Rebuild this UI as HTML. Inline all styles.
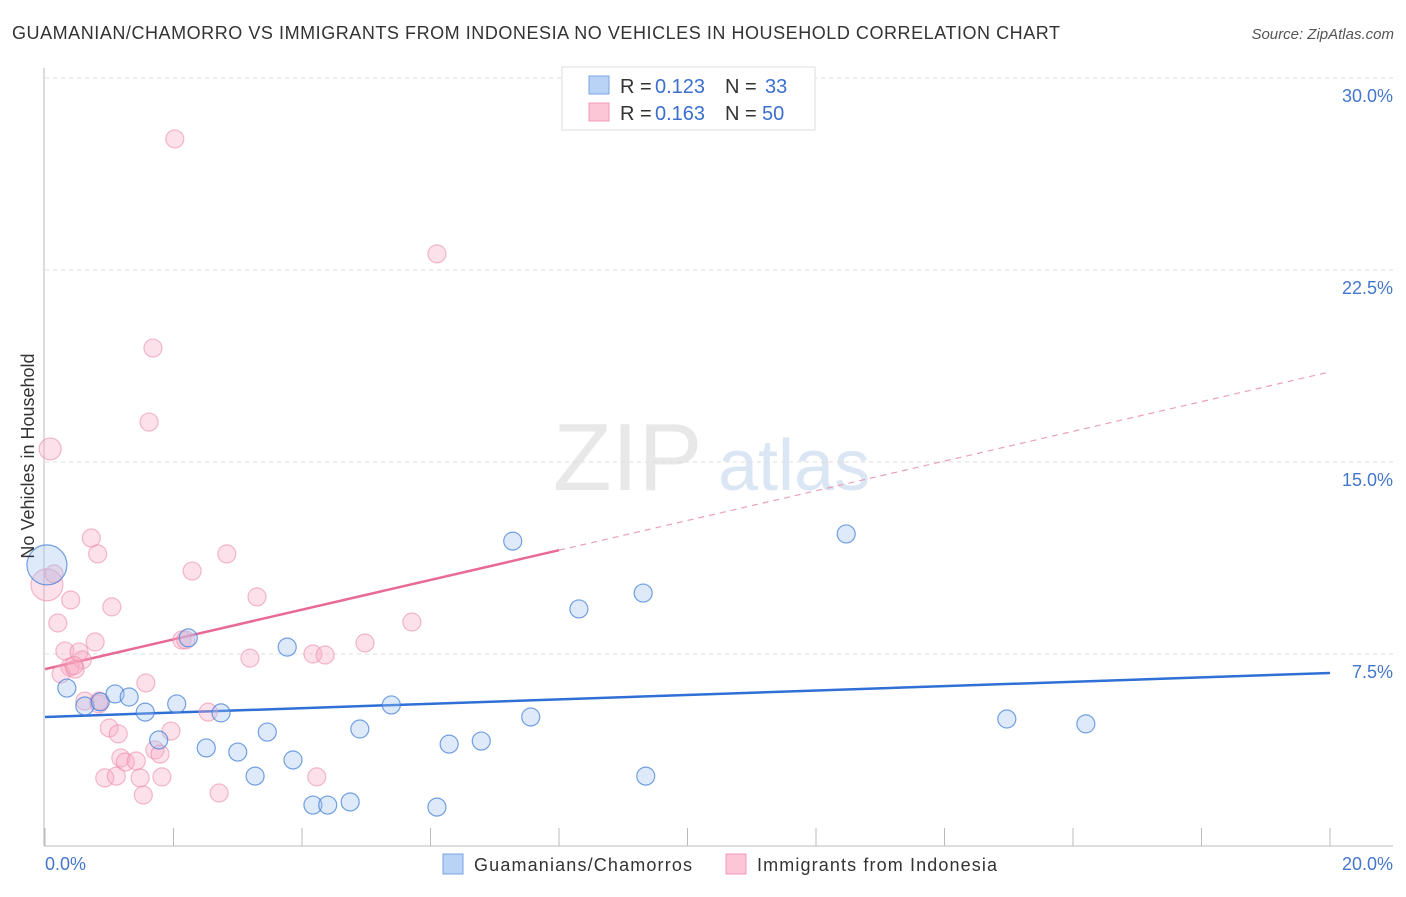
<!DOCTYPE html>
<html><head><meta charset="utf-8"><style>
body{margin:0;background:#fff;font-family:"Liberation Sans",sans-serif;}
svg text{font-family:"Liberation Sans",sans-serif;}
</style></head><body>
<svg id="chart" width="1406" height="892" xmlns="http://www.w3.org/2000/svg">
<text x="12" y="39" font-size="18" fill="#333" textLength="1048" lengthAdjust="spacing">GUAMANIAN/CHAMORRO VS IMMIGRANTS FROM INDONESIA NO VEHICLES IN HOUSEHOLD CORRELATION CHART</text>
<text x="1394" y="39" font-size="15" fill="#555" font-style="italic" text-anchor="end">Source: ZipAtlas.com</text>
<g><text x="553" y="490" font-size="96" fill="#e8e8e8" font-family="Liberation Serif">ZIP</text><text x="718" y="490" font-size="72" fill="#dbe6f5">atlas</text></g>
<g id="grid"></g><g id="axes"></g><g id="trends"></g><g id="pts"></g>
<text x="34" y="456" font-size="18" fill="#333" text-anchor="middle" transform="rotate(-90 34 456)">No Vehicles in Household</text>
<text x="45" y="870" font-size="18" fill="#4477cc">0.0%</text>
<text x="1393" y="870" font-size="18" fill="#4477cc" text-anchor="end">20.0%</text>
<g>
<rect x="562" y="67" width="253" height="63" fill="#fff" stroke="#ddd"/>
<rect x="589" y="76" width="20" height="18" fill="#b9d3f7" stroke="#7aa6e0"/>
<rect x="589" y="103" width="20" height="18" fill="#fcc6d6" stroke="#f09ab5"/>
<text x="620" y="93" font-size="20" fill="#333">R =</text>
<text x="655" y="93" font-size="20" fill="#3a6fd0">0.123</text>
<text x="725" y="93" font-size="20" fill="#333">N =</text>
<text x="765" y="93" font-size="20" fill="#3a6fd0">33</text>
<text x="620" y="120" font-size="20" fill="#333">R =</text>
<text x="655" y="120" font-size="20" fill="#3a6fd0">0.163</text>
<text x="725" y="120" font-size="20" fill="#333">N =</text>
<text x="762" y="120" font-size="20" fill="#3a6fd0">50</text>
</g>
<g>
<rect x="443" y="854" width="20" height="20" fill="#b9d3f7" stroke="#7aa6e0"/>
<text x="474" y="871" font-size="18" fill="#333" textLength="218">Guamanians/Chamorros</text>
<rect x="726" y="854" width="20" height="20" fill="#fcc6d6" stroke="#f09ab5"/>
<text x="757" y="871" font-size="18" fill="#333" textLength="240">Immigrants from Indonesia</text>
</g>
</svg>
<script>
const yTicks=[7.5,15,22.5,30];
const yTickLabels=["7.5%","15.0%","22.5%","30.0%"];
const xTicks=[0,2,4,6,8,10,12,14,16,18,20];
const blueX=[0.03,0.34,0.62,0.86,1.09,1.31,1.56,1.77,2.05,2.23,2.51,2.74,3.00,3.27,3.46,3.77,3.86,4.17,4.40,4.75,4.90,5.39,6.10,6.29,6.79,7.28,7.56,8.31,9.31,9.35,12.47,14.97,16.20];
const blueY=[10.98,6.17,5.47,5.63,5.94,5.82,5.23,4.14,5.55,8.13,3.83,5.20,3.67,2.73,4.45,7.77,3.36,1.60,1.60,1.72,4.57,5.51,1.52,3.98,4.10,11.91,5.04,9.26,9.88,2.73,12.19,4.96,4.77];
const pinkX=[0.08,0.03,0.14,0.20,0.72,0.82,0.40,1.04,0.78,0.31,0.53,0.58,0.39,0.25,0.47,0.62,0.84,1.00,1.14,1.57,2.13,2.19,2.29,2.83,3.30,3.19,4.17,4.36,4.98,5.71,2.54,1.96,1.71,1.79,1.18,1.25,1.42,0.93,1.11,1.48,1.82,1.53,2.71,4.23,1.68,1.62,2.02,6.10,0.84,0.45];
const pinkY=[15.51,10.20,10.63,8.71,12.03,11.41,9.61,9.34,7.97,7.62,7.58,7.27,6.99,6.72,6.91,5.66,5.55,4.61,4.38,6.37,8.05,8.05,10.74,11.41,9.73,7.34,7.50,7.46,7.93,8.75,5.23,4.49,3.75,3.59,3.44,3.28,3.32,2.66,2.73,2.66,2.70,1.99,2.07,2.70,19.45,16.56,27.62,23.13,5.66,7.05];
const blueTrend=[5.04,6.76];
const pinkTrend=[6.91,18.52];
const pinkSolidEnd=8.0;
const X=v=>45+v/20*1285, Y=v=>846-v/7.5*192;
const NS="http://www.w3.org/2000/svg";
function mk(t,a,p){const e=document.createElementNS(NS,t);for(const k in a)e.setAttribute(k,a[k]);document.getElementById(p).appendChild(e);return e;}
yTicks.forEach((t,i)=>{
 const l=mk('line',{x1:45,x2:1393,y1:Y(t),y2:Y(t),stroke:'#ddd','stroke-dasharray':'4,4'},'grid');
 
 
 const tx=mk('text',{x:1393,y:Y(t)+24,'font-size':18,fill:'#4477cc','text-anchor':'end'},'grid');
 tx.textContent=yTickLabels[i];
 
 
});
let a=mk('line',{x1:44,x2:44,y1:68,y2:846,stroke:'#bbb'},'axes');


a=mk('line',{x1:44,x2:1393,y1:846,y2:846,stroke:'#bbb'},'axes');


xTicks.forEach(t=>{const l=mk('line',{x1:X(t),x2:X(t),y1:828,y2:846,stroke:'#bbb'},'axes');
 
 });
let tl=mk('line',{x1:X(0),y1:Y(blueTrend[0]),x2:X(20),y2:Y(blueTrend[1]),stroke:'#2f6fd6','stroke-width':2.5},'trends');


const pm=pinkTrend[0]+(pinkTrend[1]-pinkTrend[0])*pinkSolidEnd/20;
tl=mk('line',{x1:X(0),y1:Y(pinkTrend[0]),x2:X(pinkSolidEnd),y2:Y(pm),stroke:'#e86a94','stroke-width':2.5},'trends');


tl=mk('line',{x1:X(pinkSolidEnd),y1:Y(pm),x2:X(20),y2:Y(pinkTrend[1]),stroke:'#eaa0b8','stroke-width':1.2,'stroke-dasharray':'6,5'},'trends');


pinkX.forEach((x,i)=>{const r=i==0?11:(i==1?16:9);
 const c=mk('circle',{cx:X(x),cy:Y(pinkY[i]),r:r,fill:'rgba(248,170,195,0.35)',stroke:'rgba(235,140,170,0.6)','stroke-width':1.2},'pts');
 
 });
blueX.forEach((x,i)=>{const r=i==0?20:9;
 const c=mk('circle',{cx:X(x),cy:Y(blueY[i]),r:r,fill:'rgba(160,195,240,0.35)',stroke:'rgba(70,130,215,0.75)','stroke-width':1.2},'pts');
 
 });
</script>
</body></html>
